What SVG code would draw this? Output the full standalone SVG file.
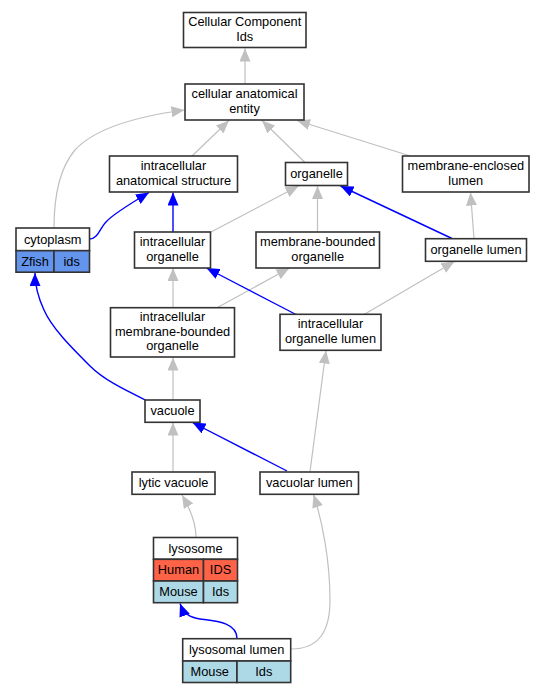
<svg xmlns="http://www.w3.org/2000/svg" width="544" height="693" viewBox="0 0 544 693">
<style>
.n{fill:#fff;stroke:#333;stroke-width:1.6}
.c{stroke:#333;stroke-width:1.6}
.z{fill:#6495ed}
.h{fill:#ff6347}
.m{fill:#add8e6}
text{font-family:"Liberation Sans",Arial,sans-serif;font-size:12.8px;text-anchor:middle;fill:#000}
.g{fill:none;stroke:#c0c0c0;stroke-width:1.2;marker-end:url(#ag)}
.b{fill:none;stroke:#0000ff;stroke-width:1.4;marker-end:url(#ab)}
</style>
<defs>
<marker id="ag" markerUnits="userSpaceOnUse" viewBox="0 0 13 11" refX="13" refY="5.5" markerWidth="13" markerHeight="11" orient="auto"><path d="M0,0 L13,5.5 L0,11 z" fill="#c0c0c0"/></marker>
<marker id="ab" markerUnits="userSpaceOnUse" viewBox="0 0 13 11" refX="13" refY="5.5" markerWidth="13" markerHeight="11" orient="auto"><path d="M0,0 L13,5.5 L0,11 z" fill="#0000ff"/></marker>
</defs>
<g id="edges">
<path class="g" d="M245,84 L245,48.5"/>
<path class="g" d="M192,156 L229,120.5"/>
<path class="g" d="M305,162.5 L262,120.5"/>
<path class="g" d="M410.5,156 L297,120.5"/>
<path class="g" d="M54,228 C54,200 58,170 75,150 C95,128 140,116 184.5,110"/>
<path class="b" d="M89.5,239 C98,239 100,228 106,222 C112,215 128,205 149,192.5"/>
<path class="b" d="M173,232 L173,192.5"/>
<path class="g" d="M211,232 L298.5,186"/>
<path class="g" d="M317.5,232 L317.5,186"/>
<path class="b" d="M452,238.5 L340.5,186"/>
<path class="g" d="M474,238.5 L470.5,192.5"/>
<path class="g" d="M173,307.5 L173,268"/>
<path class="g" d="M217.5,307.5 L289.5,268"/>
<path class="b" d="M296,314.5 L206.5,268"/>
<path class="g" d="M364,314.5 L454.5,261.5"/>
<path class="g" d="M173,400 L173,357.5"/>
<path class="b" d="M145.5,400 C125,390 104,380 90,366 C70,346 52,328 44,310 C37,295 35,285 35,273"/>
<path class="b" d="M287,471 L192.5,422.5"/>
<path class="g" d="M310,471.5 L326,350.5"/>
<path class="g" d="M173,471.5 L173,422.5"/>
<path class="g" d="M196,537 C196,525 192,512 182,495"/>
<path class="b" d="M237,638.5 C237,622 215,621 200,619 C190,617.5 184,614 180,603.5"/>
<path class="g" d="M291,649 C320,649 330,630 330,600 C330,560 322,520 313.5,494.5"/>
</g>
<g id="cc"><rect class="n" x="183.5" y="12.5" width="122.5" height="35"/><text x="244.7" y="26">Cellular Component</text><text x="244.7" y="40.5">Ids</text></g>
<g id="cae"><rect class="n" x="185" y="84" width="119" height="36"/><text x="244.5" y="98">cellular anatomical</text><text x="244.5" y="112.5">entity</text></g>
<g id="ias"><rect class="n" x="109.5" y="156" width="128" height="36"/><text x="173.5" y="170">intracellular</text><text x="173.5" y="184.5">anatomical structure</text></g>
<g id="organelle"><rect class="n" x="285.5" y="162.5" width="62" height="23"/><text x="316.5" y="177.5">organelle</text></g>
<g id="mel"><rect class="n" x="402.5" y="156" width="126.5" height="36"/><text x="465.8" y="170">membrane-enclosed</text><text x="465.8" y="184.5">lumen</text></g>
<g id="cytoplasm"><rect class="n" x="16" y="228" width="73.5" height="22.7"/><rect class="z c" x="16" y="250.7" width="38" height="21.5"/><rect class="z c" x="54" y="250.7" width="35.5" height="21.5"/><text x="52.7" y="243.5">cytoplasm</text><text x="35" y="265.5">Zfish</text><text x="71.7" y="265.5">ids</text></g>
<g id="io"><rect class="n" x="134.5" y="232" width="76" height="36"/><text x="172.5" y="246">intracellular</text><text x="172.5" y="260.5">organelle</text></g>
<g id="mbo"><rect class="n" x="256" y="232" width="123.5" height="36"/><text x="317.7" y="246">membrane-bounded</text><text x="317.7" y="260.5">organelle</text></g>
<g id="ol"><rect class="n" x="425.5" y="238.7" width="101" height="22.6"/><text x="476" y="253.5">organelle lumen</text></g>
<g id="imbo"><rect class="n" x="110.5" y="307.7" width="124" height="49.3"/><text x="172.5" y="321">intracellular</text><text x="172.5" y="335.5">membrane-bounded</text><text x="172.5" y="350">organelle</text></g>
<g id="iol"><rect class="n" x="280" y="314.3" width="101" height="36"/><text x="330.5" y="328.3">intracellular</text><text x="330.5" y="342.8">organelle lumen</text></g>
<g id="vacuole"><rect class="n" x="145" y="400" width="55" height="22.3"/><text x="172.5" y="414.7">vacuole</text></g>
<g id="lv"><rect class="n" x="132" y="472" width="83" height="22.3"/><text x="173.5" y="486.7">lytic vacuole</text></g>
<g id="vl"><rect class="n" x="260" y="472" width="98.5" height="22.3"/><text x="309.3" y="486.7">vacuolar lumen</text></g>
<g id="lysosome"><rect class="n" x="153.5" y="537.5" width="84" height="21.8"/><rect class="h c" x="153.5" y="559.3" width="50" height="21.7"/><rect class="h c" x="203.5" y="559.3" width="34" height="21.7"/><rect class="m c" x="153.5" y="581" width="50" height="21.7"/><rect class="m c" x="203.5" y="581" width="34" height="21.7"/><text x="195.5" y="552.5">lysosome</text><text x="178.5" y="574">Human</text><text x="220.5" y="574">IDS</text><text x="178.5" y="595.5">Mouse</text><text x="220.5" y="595.5">Ids</text></g>
<g id="ll"><rect class="n" x="182.7" y="638.7" width="108" height="22.3"/><rect class="m c" x="182.7" y="661" width="54.3" height="21.5"/><rect class="m c" x="237" y="661" width="53.7" height="21.5"/><text x="236.7" y="653.5">lysosomal lumen</text><text x="209.8" y="675.5">Mouse</text><text x="263.8" y="675.5">Ids</text></g>
</svg>
